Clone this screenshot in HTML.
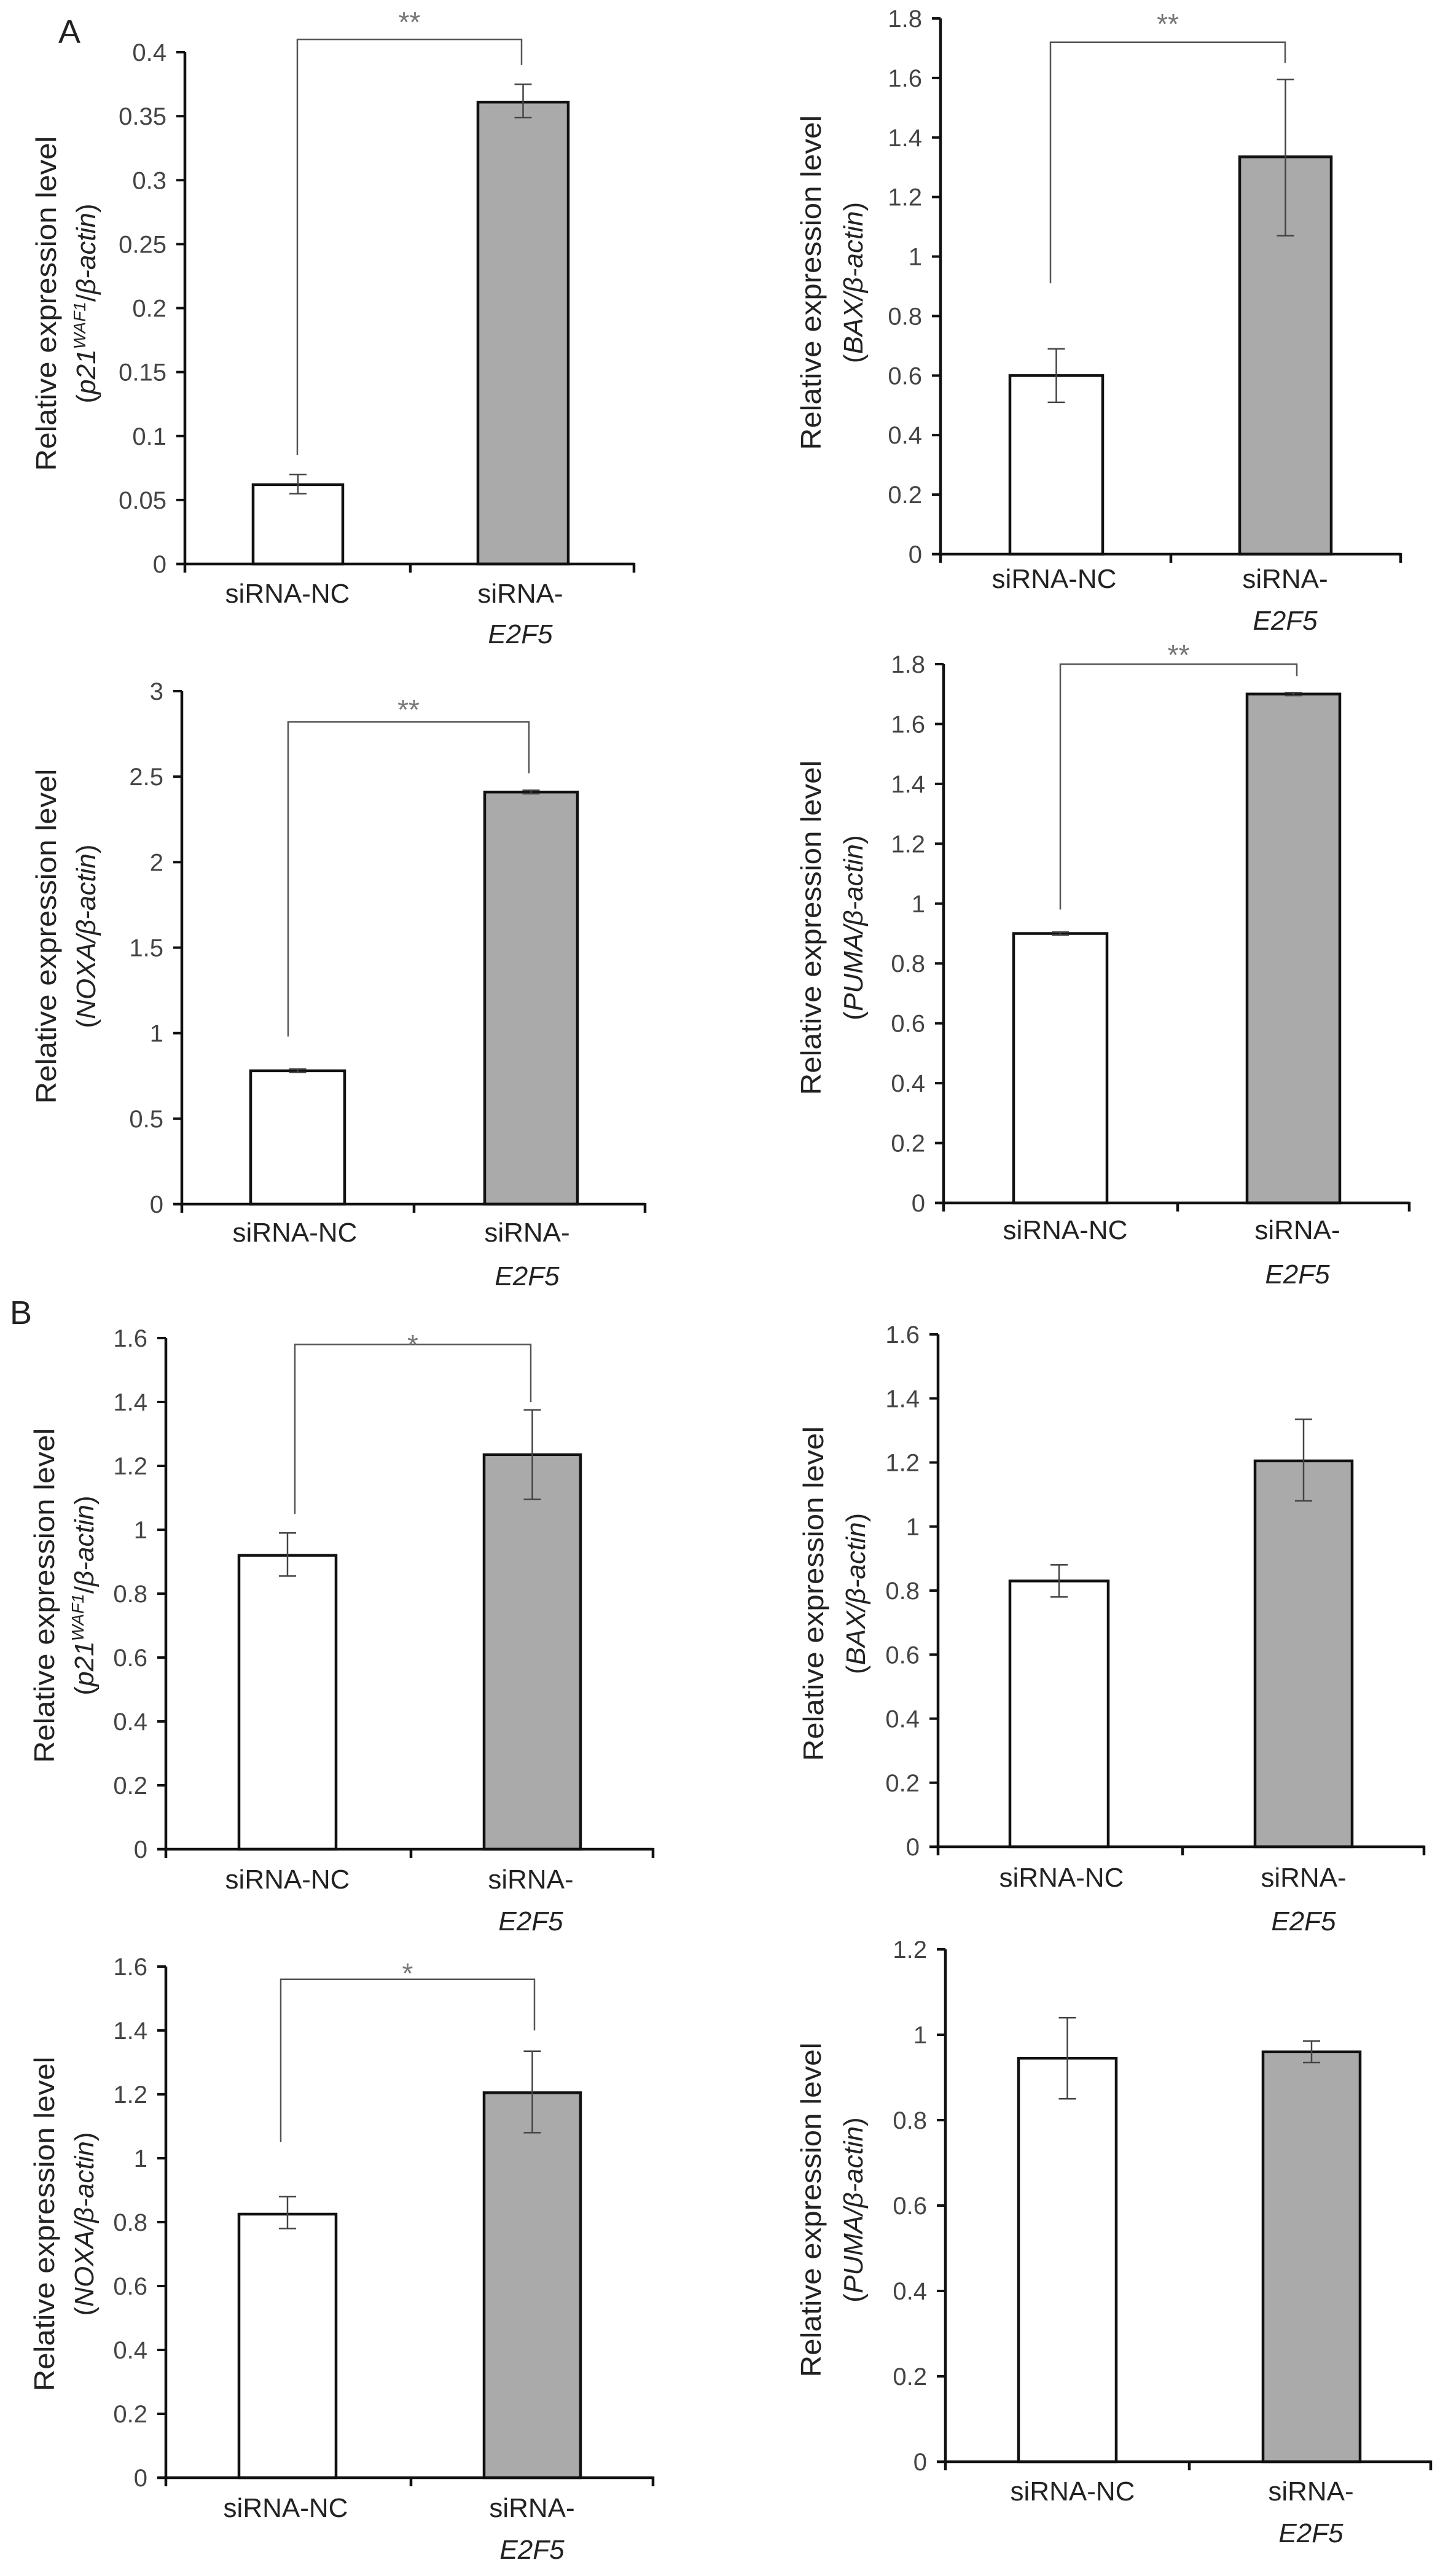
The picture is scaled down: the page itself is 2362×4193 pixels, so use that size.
<!DOCTYPE html>
<html><head><meta charset="utf-8"><style>
html,body{margin:0;padding:0;background:#fff;}
svg{display:block;}
text{font-family:"Liberation Sans",Arial,sans-serif;}
</style></head>
<body>
<svg id="fig" width="2362" height="4193" viewBox="0 0 2362 4193" xmlns="http://www.w3.org/2000/svg">
<rect width="2362" height="4193" fill="#fff"/>
<text x="113" y="70" font-size="54" fill="#222" text-anchor="middle">A</text>
<text x="34" y="2155" font-size="54" fill="#222" text-anchor="middle">B</text>
</svg>
<script>
const categories = ["siRNA-NC", "siRNA-E2F5"];
// values per chart: [NC, E2F5]
const valA1 = [0.062, 0.361]; const loA1 = [0.055, 0.349]; const hiA1 = [0.070, 0.375];
const valA2 = [0.60, 1.335]; const loA2 = [0.51, 1.07]; const hiA2 = [0.69, 1.595];
const valA3 = [0.78, 2.41]; const loA3 = [0.77, 2.40]; const hiA3 = [0.79, 2.42];
const valA4 = [0.90, 1.70]; const loA4 = [0.895, 1.695]; const hiA4 = [0.905, 1.705];
const valB1 = [0.92, 1.235]; const loB1 = [0.855, 1.095]; const hiB1 = [0.99, 1.375];
const valB2 = [0.83, 1.205]; const loB2 = [0.78, 1.08]; const hiB2 = [0.88, 1.335];
const valB3 = [0.825, 1.205]; const loB3 = [0.78, 1.08]; const hiB3 = [0.88, 1.335];
const valB4 = [0.945, 0.96]; const loB4 = [0.85, 0.935]; const hiB4 = [1.04, 0.985];
const ticksA1 = ["0","0.05","0.1","0.15","0.2","0.25","0.3","0.35","0.4"];
const ticks18 = ["0","0.2","0.4","0.6","0.8","1","1.2","1.4","1.6","1.8"];
const ticks3 = ["0","0.5","1","1.5","2","2.5","3"];
const ticks16 = ["0","0.2","0.4","0.6","0.8","1","1.2","1.4","1.6"];
const ticks12 = ["0","0.2","0.4","0.6","0.8","1","1.2"];
// significance brackets: [leftValue, rightValue, topValue]
const sigA1 = [0.085, 0.39, 0.41]; const sigA2 = [0.91, 1.65, 1.72];
const sigA3 = [0.98, 2.52, 2.82]; const sigA4 = [0.98, 1.76, 1.8];
const sigB1 = [1.05, 1.4, 1.58]; const sigB3 = [1.05, 1.4, 1.56];

const NS = "http://www.w3.org/2000/svg";
const svg = document.getElementById("fig");
function mk(tag, attrs, parent){ const e=document.createElementNS(NS,tag); for(const k in attrs) e.setAttribute(k,attrs[k]); (parent||svg).appendChild(e); return e; }

const layouts = [
 {id:"a1", gene:"p21", sup:true, ax:301, y0:918, yTop:85, xEnd:1032, b:[[412,558],[778,925]], mid:668, lab:966, lab2:1032, lx:[468,847], tx:[75,139], ty:494, val:valA1, lo:loA1, hi:hiA1, ticks:ticksA1, sig:sigA1, bx:[484,849], star:"**", sy:30},
 {id:"a2", gene:"BAX", ax:1531, y0:902, yTop:30, xEnd:2280, b:[[1644,1795],[2018,2167]], mid:1906, lab:942, lab2:1010, lx:[1716,2092], tx:[1320,1388], ty:460, val:valA2, lo:loA2, hi:hiA2, ticks:ticks18, sig:sigA2, bx:[1710,2092], star:"**", sy:33},
 {id:"a3", gene:"NOXA", ax:296, y0:1960, yTop:1125, xEnd:1050, b:[[408,561],[789,940]], mid:674, lab:2006, lab2:2077, lx:[480,858], tx:[75,139], ty:1524, val:valA3, lo:loA3, hi:hiA3, ticks:ticks3, sig:sigA3, bx:[469,861], star:"**", sy:1149},
 {id:"a4", gene:"PUMA", ax:1536, y0:1958, yTop:1081, xEnd:2294, b:[[1650,1802],[2030,2181]], mid:1917, lab:2002, lab2:2074, lx:[1734,2112], tx:[1320,1388], ty:1510, val:valA4, lo:loA4, hi:hiA4, ticks:ticks18, sig:sigA4, bx:[1726,2111], star:"**", sy:1060},
 {id:"b1", gene:"p21", sup:true, ax:270, y0:3010, yTop:2178, xEnd:1063, b:[[389,547],[788,945]], mid:669, lab:3059, lab2:3127, lx:[468,864], tx:[72,136], ty:2597, val:valB1, lo:loB1, hi:hiB1, ticks:ticks16, sig:sigB1, bx:[480,864], star:"*", sy:2183},
 {id:"b2", gene:"BAX", ax:1527, y0:3006, yTop:2172, xEnd:2318, b:[[1644,1804],[2043,2201]], mid:1925, lab:3056, lab2:3127, lx:[1728,2122], tx:[1324,1392], ty:2594, val:valB2, lo:loB2, hi:hiB2, ticks:ticks16},
 {id:"b3", gene:"NOXA", ax:270, y0:4033, yTop:3201, xEnd:1063, b:[[389,547],[788,945]], mid:669, lab:4082, lab2:4150, lx:[465,866], tx:[72,136], ty:3620, val:valB3, lo:loB3, hi:hiB3, ticks:ticks16, sig:sigB3, bx:[457,870], star:"*", sy:3206},
 {id:"b4", gene:"PUMA", ax:1539, y0:4007, yTop:3173, xEnd:2329, b:[[1658,1817],[2056,2214]], mid:1936, lab:4055, lab2:4123, lx:[1746,2134], tx:[1320,1388], ty:3597, val:valB4, lo:loB4, hi:hiB4, ticks:ticks12}
];

layouts.forEach(L => {
  const g = mk("g", {});
  
  
  const max = parseFloat(L.ticks[L.ticks.length-1]);
  const y = v => L.y0 - (v/max)*(L.y0 - L.yTop);
  L.val.forEach((v,i) => {
    const r = mk("rect", {x:L.b[i][0], y:y(v), width:L.b[i][1]-L.b[i][0], height:L.y0-y(v), fill:i?"#aaaaaa":"#ffffff", stroke:"#111", "stroke-width":4.5}, g);
    
    
    const cx = (L.b[i][0]+L.b[i][1])/2;
    const e = mk("path", {d:`M${cx} ${y(L.lo[i])}V${y(L.hi[i])}M${cx-14} ${y(L.lo[i])}H${cx+14}M${cx-14} ${y(L.hi[i])}H${cx+14}`, stroke:"#444", "stroke-width":2.5, fill:"none"}, g);
    
    
  });
  const ya = mk("path", {d:`M${L.ax} ${L.yTop}V${L.y0}`, stroke:"#111", "stroke-width":4.5, fill:"none"}, g);
  
  
  const xa = mk("path", {d:`M${L.ax-14} ${L.y0}H${L.xEnd}M${L.ax} ${L.y0}v14M${L.mid} ${L.y0}v14M${L.xEnd} ${L.y0-2}v16`, stroke:"#111", "stroke-width":4.5, fill:"none"}, g);
  
  
  L.ticks.forEach(t => {
    const v = parseFloat(t);
    mk("path", {d:`M${L.ax-14} ${y(v)}H${L.ax}`, stroke:"#111", "stroke-width":4}, g);
    const tx = mk("text", {x:L.ax-30, y:y(v)+14, "font-size":40, fill:"#444", "text-anchor":"end"}, g);
    tx.textContent = t;
    
    
  });
  const c1 = mk("text", {x:L.lx[0], y:L.lab+15, "font-size":44, fill:"#222", "text-anchor":"middle"}, g);
  c1.textContent = categories[0];
  
  
  const c2 = mk("text", {x:L.lx[1], y:L.lab+15, "font-size":44, fill:"#222", "text-anchor":"middle"}, g);
  c2.textContent = "siRNA-";
  
  
  const c3 = mk("text", {x:L.lx[1], y:L.lab2+15, "font-size":44, fill:"#222", "text-anchor":"middle", "font-style":"italic"}, g);
  c3.textContent = "E2F5";
  
  
  const t1 = mk("text", {x:0, y:0, "font-size":46, fill:"#222", "text-anchor":"middle", textLength:545, lengthAdjust:"spacingAndGlyphs", transform:`translate(${L.tx[0]+16},${L.ty}) rotate(-90)`}, g);
  t1.textContent = "Relative expression level";
  
  
  const t2 = mk("text", {x:0, y:0, "font-size":44, fill:"#222", "text-anchor":"middle", transform:`translate(${L.tx[1]+16},${L.ty}) rotate(-90)`}, g);
  
  
  if (L.sup) {
    t2.innerHTML = '(<tspan font-style="italic">p21</tspan><tspan font-style="italic" font-size="28" dy="-16">WAF1</tspan><tspan dy="16">/</tspan><tspan font-style="italic">β-actin</tspan>)';
  } else {
    t2.innerHTML = '(<tspan font-style="italic">' + L.gene + '/β-actin</tspan>)';
  }
  if (L.sig) {
    const s = mk("path", {d:`M${L.bx[0]} ${y(L.sig[0])}V${y(L.sig[2])}H${L.bx[1]}V${y(L.sig[1])}`, stroke:"#555", "stroke-width":2.5, fill:"none"}, g);
    
    
    const st = mk("text", {x:(L.bx[0]+L.bx[1])/2, y:L.sy+22, "font-size":46, fill:"#777", "text-anchor":"middle"}, g);
    st.textContent = L.star;
    
    
  }
});
</script>
</body></html>
